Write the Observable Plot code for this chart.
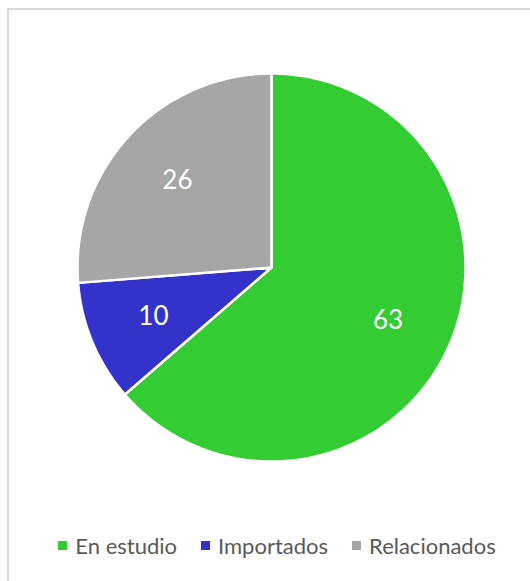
<!DOCTYPE html>
<html>
<head>
<meta charset="utf-8">
<script src="https://cdn.jsdelivr.net/npm/d3@7"></script>
<script src="https://cdn.jsdelivr.net/npm/@observablehq/plot@0.6"></script>
<style>
  html, body { margin: 0; padding: 0; background: #fff; }
  #frame { position: absolute; left: 7px; top: 8px; width: 530px; height: 581px;
           border-left: 2px solid #d9d9d9; border-top: 2px solid #d9d9d9; }
  #chart { position: absolute; left: 0; top: 0; }
  #legend { position: absolute; left: 0; top: 532px; width: 554px; display: flex; justify-content: center;
            gap: 24px; font-family: Lato, sans-serif; font-size: 22px; color: #595959; }
  #legend span.item { display: inline-flex; align-items: center; }
  #legend span.sw { display: inline-block; width: 9px; height: 9px; margin-right: 8px; }
</style>
</head>
<body>
<div id="frame"></div>
<div id="chart"></div>
<div id="legend"></div>
<script>
const categories = ["En estudio", "Importados", "Relacionados"];
const values = [63, 10, 26];
const colors = ["#33cc33", "#3333cc", "#a6a6a6"];

const data = categories.map((name, i) => ({name, value: values[i]}));
const arcs = d3.pie().sort(null).value(d => d.value)(data);

// polygon vertices for each slice (center -> arc -> center), in unit coords
const poly = [];
for (const a of arcs) {
  const n = Math.max(2, Math.ceil((a.endAngle - a.startAngle) / 0.01));
  poly.push({name: a.data.name, x: 0, y: 0});
  for (let k = 0; k <= n; k++) {
    const t = a.startAngle + (a.endAngle - a.startAngle) * k / n;
    poly.push({name: a.data.name, x: Math.sin(t), y: Math.cos(t)});
  }
  poly.push({name: a.data.name, x: 0, y: 0});
}
const labels = arcs.map(a => {
  const m = (a.startAngle + a.endAngle) / 2;
  return {name: a.data.name, value: a.data.value, x: 0.66 * Math.sin(m), y: 0.66 * Math.cos(m)};
});

const cx = 271, cy = 267, r = 194;
const chart = Plot.plot({
  width: 530,
  height: 520,
  margin: 0,
  x: {domain: [-1, 1], range: [cx - r, cx + r], axis: null},
  y: {domain: [-1, 1], range: [cy + r, cy - r], axis: null},
  color: {domain: categories, range: colors},
  style: {background: "transparent"},
  marks: [
    Plot.line(poly, {x: "x", y: "y", z: "name", fill: "name", stroke: "white", strokeWidth: 2.5, strokeLinejoin: "miter", curve: "linear"}),
    Plot.text(labels, {x: "x", y: "y", text: d => String(d.value), fill: "white", fontSize: 26, fontFamily: "Lato, sans-serif"})
  ]
});
document.getElementById("chart").appendChild(chart);

const legend = document.getElementById("legend");
categories.forEach((c, i) => {
  const it = document.createElement("span");
  it.className = "item";
  const sw = document.createElement("span");
  sw.className = "sw";
  sw.style.background = colors[i];
  it.appendChild(sw);
  it.appendChild(document.createTextNode(c));
  legend.appendChild(it);
});
</script>
</body>
</html>
